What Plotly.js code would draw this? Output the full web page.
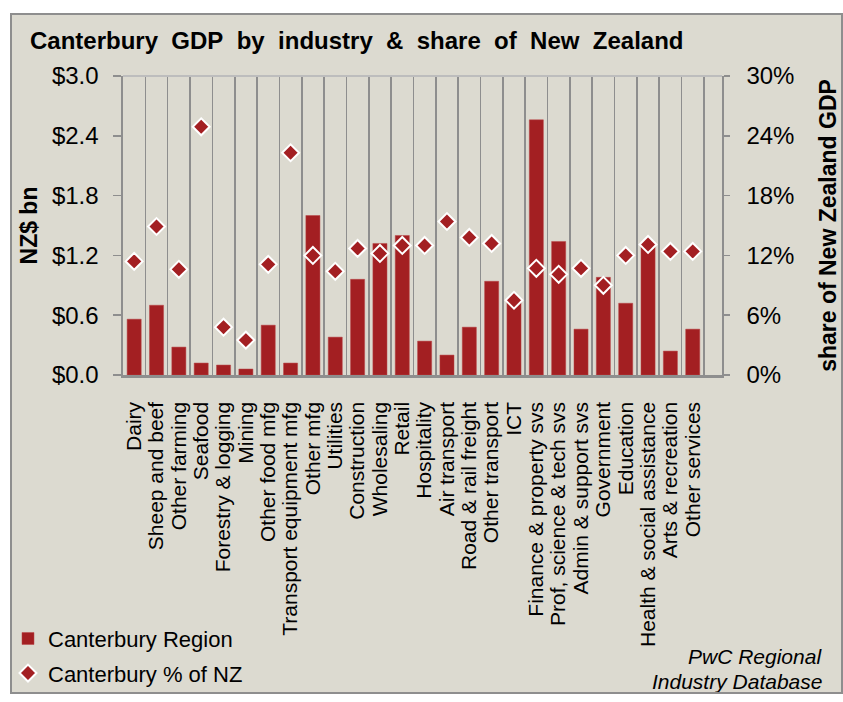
<!DOCTYPE html>
<html>
<head>
<meta charset="utf-8">
<script src="https://cdn.plot.ly/plotly-3.0.1.min.js"></script>
<style>
  html, body { margin: 0; padding: 0; background: #ffffff; }
  #chart { position: absolute; left: 10px; top: 13px; width: 829px; height: 677px;
           border: 2px solid #8e8e8e; background: #dcdad0; }
</style>
</head>
<body>
<div id="chart"></div>
<script>
const categories = ["Dairy","Sheep and beef","Other farming","Seafood","Forestry & logging","Mining",
  "Other food mfg","Transport equipment mfg","Other mfg","Utilities","Construction","Wholesaling",
  "Retail","Hospitality","Air transport","Road & rail freight","Other transport","ICT",
  "Finance & property svs","Prof, science & tech svs","Admin & support svs","Government",
  "Education","Health & social assistance","Arts & recreation","Other services"];
const gdpBn = [0.56,0.70,0.28,0.12,0.10,0.06,0.50,0.12,1.60,0.38,0.96,1.32,1.40,0.34,
  0.20,0.48,0.94,0.75,2.56,1.34,0.46,0.98,0.72,1.30,0.24,0.46];
const sharePct = [11.4,14.9,10.6,24.9,4.8,3.5,11.1,22.3,12.0,10.4,12.7,12.2,13.0,13.0,
  15.4,13.8,13.2,7.5,10.7,10.1,10.7,9.0,12.0,13.1,12.4,12.4];
const leftTicks = [0,0.6,1.2,1.8,2.4,3.0];
const rightTicks = [0,6,12,18,24,30];
const sourceLines = ["PwC Regional", "Industry Database"];

const RED = "#a31f22";
const GRAY = "#8e8e8e";
const FONT = "Liberation Sans, Arial, sans-serif";
const sp = "\u00a0\u00a0";

const traces = [
  {
    type: "bar", x: categories, y: gdpBn, name: "Canterbury Region",
    marker: { color: RED, line: { color: "#b84446", width: 0.5 } },
    legendgroup: "a", hoverinfo: "x+y"
  },
  {
    type: "scatter", mode: "markers", x: categories, y: sharePct, yaxis: "y2",
    name: "Canterbury % of NZ",
    marker: { symbol: "diamond", size: 13, color: RED, line: { color: "#ffffff", width: 2 } },
    legendgroup: "b"
  }
];

const PH = 299.3;
const layout = {
  width: 829, height: 677,
  paper_bgcolor: "#dcdad0", plot_bgcolor: "#dcdad0",
  margin: { l: 111, r: 119, t: 61, b: 317, autoexpand: false },
  font: { family: FONT, color: "#000000", size: 21 },
  title: {
    text: "<b>Canterbury" + sp + "GDP" + sp + "by" + sp + "industry" + sp + "&amp;" + sp + "share" + sp + "of" + sp + "New" + sp + "Zealand</b>",
    font: { family: FONT, size: 24, color: "#000000" },
    x: 18 / 829, xanchor: "left", xref: "container",
    y: 1 - 26 / 677, yanchor: "middle", yref: "container"
  },
  bargap: 0.37,
  showlegend: true,
  legend: {
    x: -0.192, xanchor: "left", y: (360 - 680) / PH, yanchor: "bottom",
    bgcolor: "rgba(0,0,0,0)", font: { family: FONT, size: 22, color: "#000" },
    traceorder: "grouped", tracegroupgap: 3
  },
  xaxis: {
    type: "category",
    range: [-0.5, 26.31],
    tickmode: "linear", tick0: 0, dtick: 1,
    tickson: "boundaries",
    showgrid: true, gridcolor: GRAY, gridwidth: 1.6,
    showline: true, linecolor: GRAY, linewidth: 2.5,
    ticks: "", tickangle: -90,
    tickfont: { family: FONT, size: 21, color: "#000" },
    ticklabelstandoff: 16,
    automargin: false,
    zeroline: false, fixedrange: true
  },
  yaxis: {
    range: [0, 3.0],
    tickvals: leftTicks,
    ticktext: leftTicks.map(v => "$" + v.toFixed(1)),
    showgrid: false, zeroline: false,
    showline: true, linecolor: GRAY, linewidth: 1.6,
    ticks: "outside", ticklen: 8, tickcolor: GRAY, tickwidth: 1.6,
    ticklabelstandoff: 10,
    tickfont: { family: FONT, size: 24, color: "#000" },
    title: { text: "<b>NZ$ bn</b>", font: { family: FONT, size: 23, color: "#000" }, standoff: 8 },
    automargin: false,
    fixedrange: true
  },
  yaxis2: {
    overlaying: "y", side: "right",
    range: [0, 30],
    tickvals: rightTicks,
    ticktext: rightTicks.map(v => v + "%"),
    showgrid: false, zeroline: false,
    showline: true, linecolor: GRAY, linewidth: 1.6,
    ticks: "outside", ticklen: 6, tickcolor: GRAY, tickwidth: 1.6,
    ticklabelstandoff: 12,
    tickfont: { family: FONT, size: 24, color: "#000" },
    title: { text: "<b>share of New Zealand GDP</b>", font: { family: FONT, size: 23, color: "#000" }, standoff: 26 },
    automargin: false,
    fixedrange: true
  },
  shapes: [
    { type: "line", xref: "paper", yref: "paper", x0: 0, x1: 1, y0: 1, y1: 1,
      line: { color: "#bdbdbd", width: 2 } }
  ],
  annotations: sourceLines.map((t, i) => ({
    text: "<i>" + t + "</i>", xref: "paper", yref: "paper",
    x: (812 - 111) / 599, y: (360 - (642 + i * 25)) / PH, xanchor: "right", yanchor: "middle",
    align: "right", showarrow: false,
    font: { family: FONT, size: 21, color: "#000" }
  }))
};

Plotly.newPlot("chart", traces, layout, { displayModeBar: false, staticPlot: true });
</script>
</body>
</html>
